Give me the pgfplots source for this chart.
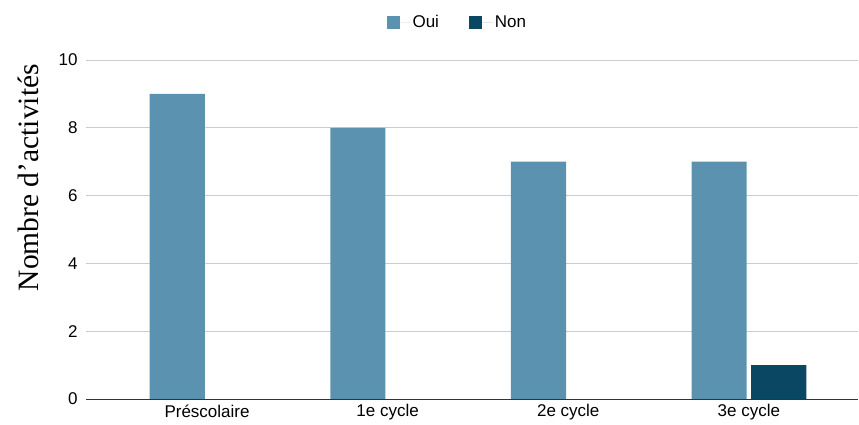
\documentclass[border=0pt]{standalone}
\usepackage{fontspec}
\setmainfont{Liberation Sans}
\newfontfamily\seriffont{Liberation Serif}
\usepackage{pgfplots}
\pgfplotsset{compat=1.18}

\definecolor{oui}{HTML}{5A92B0}
\definecolor{non}{HTML}{0A4763}
\definecolor{gridgray}{HTML}{CCCCCC}

\begin{document}
\begin{tikzpicture}
\useasboundingbox (0,0) rectangle (859bp,425bp);
\begin{axis}[
    at={(86bp,26bp)}, anchor=south west,
    scale only axis,
    width=772bp, height=339bp,
    ybar,
    bar width=0.305,
    xmin=-0.67, xmax=3.604,
    ymin=0, ymax=10,
    xtick=data,
    xticklabels={Préscolaire, 1e cycle, 2e cycle, 3e cycle},
    ytick={0,2,...,10},
    major tick length=0pt,
    axis x line*=bottom, axis y line*=left,
    y axis line style={draw=none},
    x axis line style={draw=black!80, line width=1bp},
    ymajorgrids,
    grid style={gridgray, line width=0.8bp},
    tick label style={font=\fontsize{17bp}{20bp}\selectfont},
    /pgf/number format/assume math mode=true,
    yticklabel style={xshift=-5bp},
    xticklabel style={yshift=-2bp},
    ylabel={\seriffont Nombre d’activités},
    ylabel style={font=\fontsize{29.5bp}{33bp}\selectfont, at={(axis description cs:-0.0745,0.653)}, anchor=center, rotate=0},
    legend columns=2,
    legend style={at={(axis description cs:0.481,1.112)}, anchor=center, draw=none, fill=none,
        font=\fontsize{17bp}{20bp}\selectfont,
        /tikz/every even column/.append style={column sep=28bp}},
    legend image code/.code={\fill[#1] (0bp,-6.5bp) rectangle (13bp,6.5bp); \path (0bp,0bp) -- (24bp,0bp);},
]
\addplot[fill=oui, draw=none, bar shift=-0.165] coordinates {(0,9) (1,8) (2,7) (3,7)};
\addlegendentry{Oui}
\addplot[fill=non, draw=none, bar shift=0.165] coordinates {(0,0) (1,0) (2,0) (3,1)};
\addlegendentry{Non}
\end{axis}
\end{tikzpicture}
\end{document}
